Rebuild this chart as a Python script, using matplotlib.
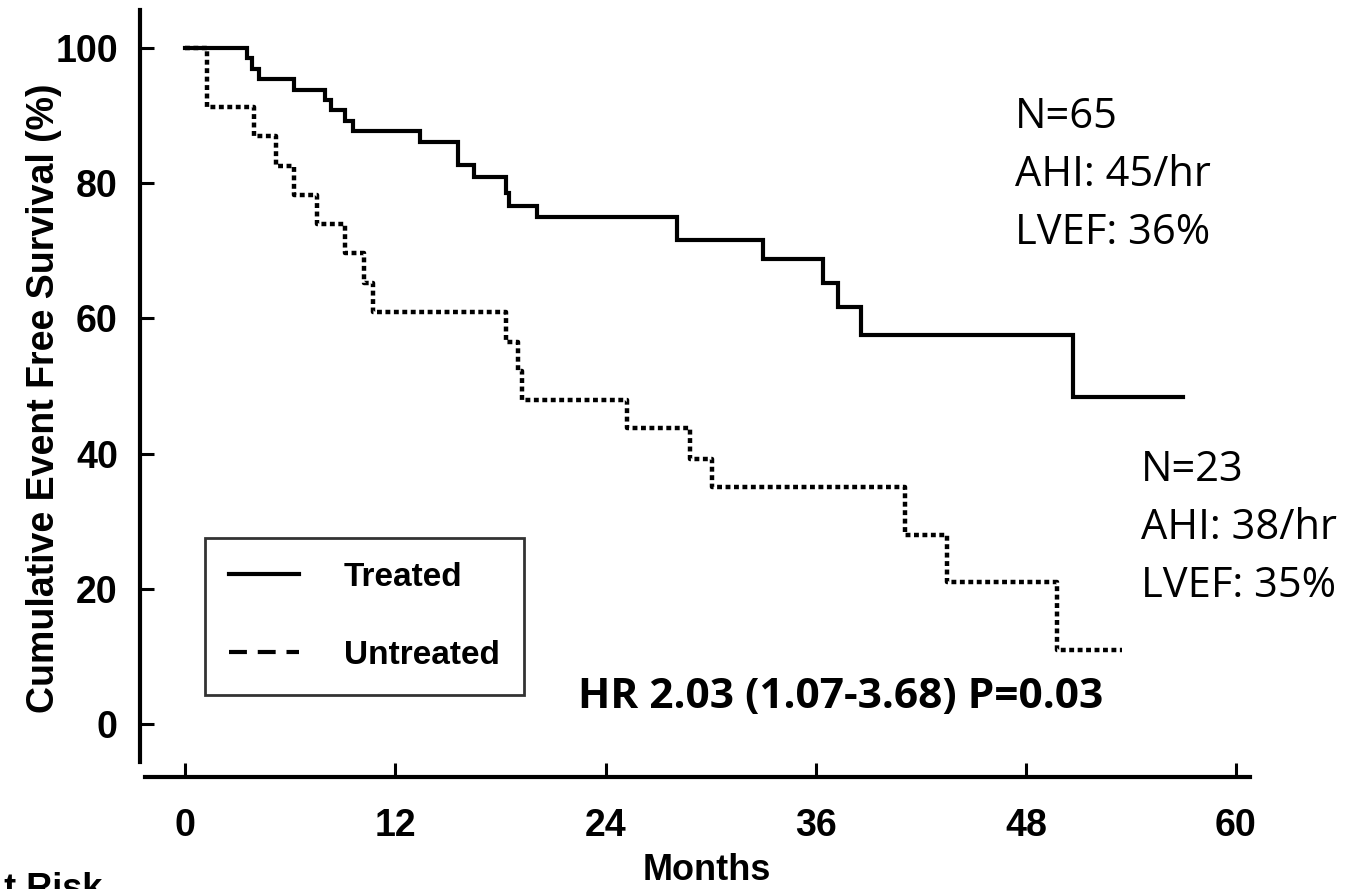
import matplotlib
matplotlib.use('Agg')
import matplotlib.pyplot as plt
from matplotlib.lines import Line2D

# Kaplan-Meier steps (months, % event free)
treated_t = [0, 3.5, 3.8, 4.2, 6.2, 8.0, 8.3, 9.1, 9.6, 13.4, 15.6, 16.5,
             18.3, 18.5, 20.1, 28.1, 33.0, 36.4, 37.3, 38.6, 50.7, 57.0]
treated_s = [100, 98.5, 96.9, 95.4, 93.8, 92.3, 90.8, 89.2, 87.7, 86.1, 82.7, 80.9,
             78.6, 76.6, 75.0, 71.6, 68.8, 65.2, 61.7, 57.5, 48.4, 48.4]

untreated_t = [0, 1.25, 3.9, 5.2, 6.2, 7.5, 9.1, 10.2, 10.7, 18.3, 19.0, 19.2,
               25.2, 28.8, 30.1, 41.1, 43.5, 49.8, 53.5]
untreated_s = [100, 91.3, 87.0, 82.6, 78.3, 73.9, 69.6, 65.2, 60.9, 56.5, 52.2, 47.9,
               43.8, 39.2, 35.1, 28.0, 21.0, 10.9, 10.9]

x_ticks = [0, 12, 24, 36, 48, 60]
y_ticks = [0, 20, 40, 60, 80, 100]

arial = 'Liberation Sans'
calibri = 'Open Sans'

W, H = 1360, 889
fig = plt.figure(figsize=(W / 100, H / 100), dpi=100)
ax = fig.add_axes([145 / W, 1 - 762 / H, 1105 / W, 752 / H])

ax.step(treated_t, treated_s, where='post', color='black', lw=3,
        solid_joinstyle='miter')
ax.step(untreated_t, untreated_s, where='post', color='black', lw=3.2,
        linestyle=(0, (1.1, 0.8)), dash_capstyle='butt')

ax.set_xlim(-2.3, 60.8)
ax.set_ylim(-5.6, 105.6)

for side in ['top', 'right']:
    ax.spines[side].set_visible(False)
ax.spines['left'].set_position(('outward', 3.6))
ax.spines['bottom'].set_position(('outward', 10.8))
ax.spines['left'].set_linewidth(3)
ax.spines['bottom'].set_linewidth(3)

ax.set_xticks(x_ticks)
ax.set_yticks(y_ticks)
ax.tick_params(direction='in', length=10, width=2.2, labelsize=27)
ax.tick_params(axis='x', pad=22)
ax.tick_params(axis='y', pad=16)
for lab in ax.get_xticklabels() + ax.get_yticklabels():
    lab.set_fontfamily(arial)
    lab.set_fontweight('bold')

fig.text(44 / W, 1 - 398 / H, 'Cumulative Event Free Survival (%)', rotation=90,
         ha='center', va='center', fontsize=27, fontweight='bold', family=arial)
fig.text(707 / W, 1 - 871 / H, 'Months', ha='center', va='center',
         fontsize=26, fontweight='bold', family=arial)
fig.text(-22 / W, 1 - 872 / H, 'At Risk', ha='left', va='top',
         fontsize=26, fontweight='bold', family=arial)

# legend
handles = [Line2D([], [], color='black', lw=3),
           Line2D([], [], color='black', lw=3, linestyle=(0, (4.3, 2.6)))]
leg = ax.legend(handles, ['Treated', 'Untreated'], loc='upper left',
                bbox_to_anchor=(205 / W, 1 - 538 / H), bbox_transform=fig.transFigure,
                borderaxespad=0, frameon=True, fancybox=False, edgecolor='black',
                prop={'family': arial, 'weight': 'bold', 'size': 24},
                handlelength=2.1, handletextpad=1.35, labelspacing=1.4, borderpad=0.72)
leg.get_frame().set_linewidth(2)

# group annotations
for i, line in enumerate(['N=65', 'AHI: 45/hr', 'LVEF: 36%']):
    fig.text(1015 / W, 1 - (117 + 58 * i) / H, line, ha='left', va='center',
             fontsize=30, family=calibri)
for i, line in enumerate(['N=23', 'AHI: 38/hr', 'LVEF: 35%']):
    fig.text(1141 / W, 1 - (470 + 58 * i) / H, line, ha='left', va='center',
             fontsize=30, family=calibri)
fig.text(578 / W, 1 - 697 / H, 'HR 2.03 (1.07-3.68) P=0.03', ha='left', va='center',
         fontsize=30.5, fontweight='bold', family=calibri)

fig.savefig('out.png', dpi=100)
